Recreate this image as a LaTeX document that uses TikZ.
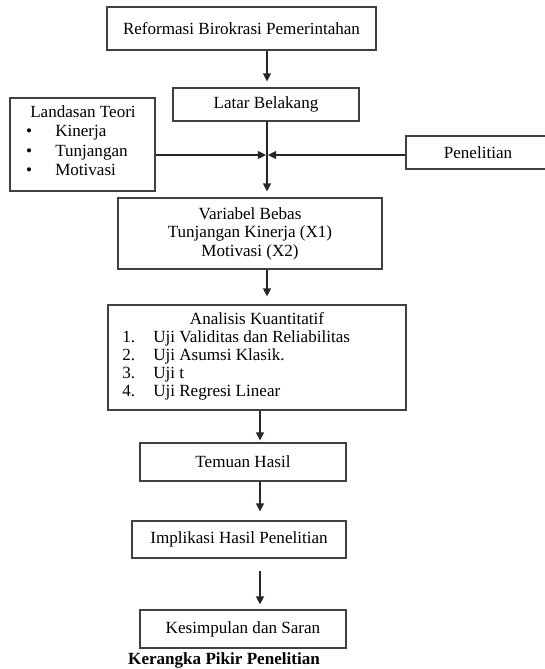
\documentclass[tikz,border=0pt]{standalone}
\usepackage{fontspec}
\setmainfont{Liberation Serif}
\usetikzlibrary{arrows.meta}

\begin{document}
\begin{tikzpicture}[x=0.75pt,y=-0.75pt,
    box/.style={draw=black!75,line width=0.9pt,inner sep=0pt,align=center,
      font=\fontsize{12.8}{13.9}\selectfont},
    txt/.style={inner sep=0pt,font=\fontsize{12.8}{13.9}\selectfont},
    arr/.style={draw=black!85,line width=0.9pt,-{Triangle[length=6pt,width=6pt]}}]
      \useasboundingbox (0,0) rectangle (545,669);

      % boxes
      \node[box,minimum width=201.75pt,minimum height=32.25pt] (reform) at (241.5,28.5) {Reformasi Birokrasi Pemerintahan};
      \node[box,minimum width=139.5pt,minimum height=24.75pt] (latar) at (266,104.5) {Latar Belakang};
      \node[box,minimum width=108.75pt,minimum height=69.75pt] (landasan) at (82.5,144.5) {};
      \node[box,minimum width=108pt,minimum height=24.75pt] (penelitian) at (478,152.5) {Penelitian};
      \node[box,minimum width=198pt,minimum height=53.25pt] (variabel) at (250,233.5) {Variabel Bebas\\Tunjangan Kinerja (X1)\\Motivasi (X2)};
      \node[box,minimum width=223.5pt,minimum height=78.75pt] (analisis) at (257,357.5) {};
      \node[box,minimum width=154.5pt,minimum height=28.5pt] (temuan) at (243,462) {Temuan Hasil};
      \node[box,minimum width=160.5pt,minimum height=27.75pt] (implikasi) at (239,539.5) {Implikasi Hasil Penelitian};
      \node[box,minimum width=154.5pt,minimum height=28.5pt] (kesimpulan) at (243,629) {Kesimpulan dan Saran};

      % texts in Landasan Teori
      \node[txt,anchor=base] (teori) at (83,117.5) {Landasan Teori};
      \node[txt,anchor=base] (bul1) at (29,136.5) {\textbullet};
      \node[txt,anchor=base] (bul2) at (29,156.5) {\textbullet};
      \node[txt,anchor=base] (bul3) at (29,175.5) {\textbullet};
      \node[txt,anchor=base west] (kinerja) at (55,136.5) {Kinerja};
      \node[txt,anchor=base west] (tunjangan) at (55,156.5) {Tunjangan};
      \node[txt,anchor=base west] (motivasi) at (55,175.5) {Motivasi};

      % texts in Analisis Kuantitatif
      \node[txt,anchor=base] (kuant) at (257,324) {Analisis Kuantitatif};
      \node[txt,anchor=base west] (no1) at (122,342) {1.};
      \node[txt,anchor=base west] (no2) at (122,360) {2.};
      \node[txt,anchor=base west] (no3) at (122,378) {3.};
      \node[txt,anchor=base west] (no4) at (122,396) {4.};
      \node[txt,anchor=base west] (uji1) at (153,342) {Uji Validitas dan Reliabilitas};
      \node[txt,anchor=base west] (uji2) at (153,360) {Uji Asumsi Klasik.};
      \node[txt,anchor=base west] (uji3) at (153,378) {Uji t};
      \node[txt,anchor=base west] (uji4) at (153,396) {Uji Regresi Linear};

      \node[txt,font=\fontsize{12.8}{13.9}\selectfont\bfseries] (judul) at (224,660) {Kerangka Pikir Penelitian};

      % arrows
      \coordinate (j) at (267,155);
      \coordinate (c) at (260,0);
      \draw[arr,shorten >=4.5pt] (reform.south -| j) -- (latar.north -| j);
      \draw[arr,shorten >=4.5pt] (latar.south -| j) -- (variabel.north -| j);
      \draw[arr,shorten >=0.8pt] (landasan.east |- j) -- (j);
      \draw[arr,shorten >=0.8pt] (penelitian.west |- j) -- (j);
      \draw[arr,shorten >=6pt] (variabel.south -| j) -- (analisis.north -| j);
      \draw[arr,shorten >=1.5pt] (analisis.south -| c) -- (temuan.north -| c);
      \draw[arr,shorten >=6.75pt] (temuan.south -| c) -- (implikasi.north -| c);
      \draw[arr,shorten <=9pt,shorten >=3.75pt] (implikasi.south -| c) -- (kesimpulan.north -| c);
    \end{tikzpicture}
\end{document}
